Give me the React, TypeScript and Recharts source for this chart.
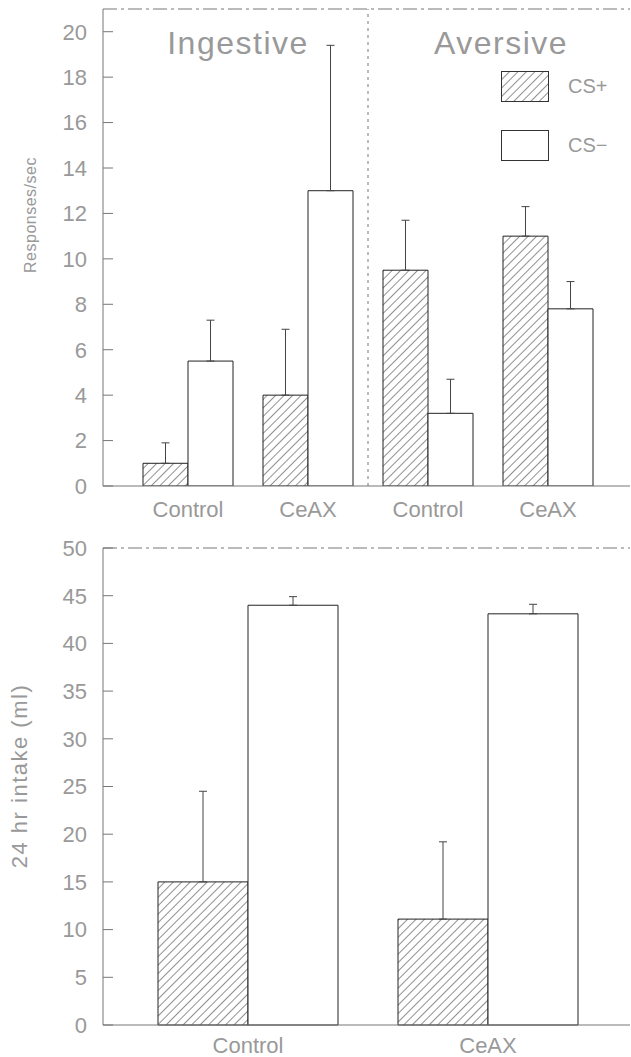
import React from 'react';
import { BarChart, Bar, XAxis, YAxis, ErrorBar, ReferenceLine, Legend } from 'recharts';

// ---- Top panel: responses ----
const respGroups = ['Ingestive', 'Ingestive', 'Aversive', 'Aversive'];
const respCategories = ['Control', 'CeAX', 'Control', 'CeAX'];
const respCSPlus = [1.0, 4.0, 9.5, 11.0];
const respCSPlusErr = [0.9, 2.9, 2.2, 1.3];
const respCSMinus = [5.5, 13.0, 3.2, 7.8];
const respCSMinusErr = [1.8, 6.4, 1.5, 1.2];
const respTicks = [0, 2, 4, 6, 8, 10, 12, 14, 16, 18, 20];
const respTop = 21;

// ---- Bottom panel: 24 hr intake ----
const intakeCategories = ['Control', 'CeAX'];
const intakeCSPlus = [15.0, 11.1];
const intakeCSPlusErr = [9.5, 8.1];
const intakeCSMinus = [44.0, 43.1];
const intakeCSMinusErr = [0.9, 1.0];
const intakeTicks = [0, 5, 10, 15, 20, 25, 30, 35, 40, 45, 50];
const intakeTop = 50;

const seriesNames = ['CS+', 'CS\u2212'];

const respData = respCategories.map((c, i) => ({
  id: respGroups[i] + '|' + c,
  plus: respCSPlus[i],
  plusErr: [0, respCSPlusErr[i]],
  minus: respCSMinus[i],
  minusErr: [0, respCSMinusErr[i]],
}));

const intakeData = intakeCategories.map((c, i) => ({
  id: c,
  plus: intakeCSPlus[i],
  plusErr: [0, intakeCSPlusErr[i]],
  minus: intakeCSMinus[i],
  minusErr: [0, intakeCSMinusErr[i]],
}));

const FONT = '"Liberation Sans", Arial, sans-serif';
const TEXT = '#999';
const AXIS = '#777';
const BAR_STROKE = '#222';
const HATCH = 'url(#hatch)';

const tickStyle = { fill: TEXT, fontSize: 22, fontFamily: FONT };

const renderLegend = (props: any) => {
  const payload = props.payload || [];
  return (
    <div style={{ fontFamily: FONT }}>
      {payload.map((e: any, i: number) => (
        <div
          key={i}
          style={{ display: 'flex', alignItems: 'center', height: 31, marginBottom: i === 0 ? 28 : 0 }}
        >
          <svg width={48} height={31} style={{ display: 'block' }}>
            <rect x={0.5} y={0.5} width={47} height={30} fill={e.color} stroke="#333" strokeWidth={1} />
          </svg>
          <span style={{ marginLeft: 19, color: TEXT, fontSize: 20 }}>{e.value}</span>
        </div>
      ))}
    </div>
  );
};

const RotLabel = ({ text, cx, cy, size, spacing }: any) => (
  <div
    style={{
      position: 'absolute',
      left: cx,
      top: cy,
      transform: 'translate(-50%, -50%) rotate(-90deg)',
      whiteSpace: 'nowrap',
      color: TEXT,
      fontFamily: FONT,
      fontSize: size,
      letterSpacing: spacing,
      lineHeight: 1,
    }}
  >
    {text}
  </div>
);

const Title = ({ text, cx, top }: any) => (
  <div
    style={{
      position: 'absolute',
      left: cx,
      top,
      transform: 'translateX(-50%)',
      whiteSpace: 'nowrap',
      color: TEXT,
      fontFamily: FONT,
      fontSize: 32,
      letterSpacing: 1.5,
      lineHeight: 1,
    }}
  >
    {text}
  </div>
);

export default function App() {
  return (
    <div style={{ position: 'absolute', left: 0, top: 0, width: 631, height: 1057, background: '#fff', overflow: 'hidden' }}>
      <svg width={0} height={0} style={{ position: 'absolute' }}>
        <defs>
          <pattern id="hatch" patternUnits="userSpaceOnUse" width={6} height={6} patternTransform="rotate(45)">
            <rect x={0} y={0} width={6} height={6} fill="#fff" />
            <line x1={0} y1={0} x2={0} y2={6} stroke="#333" strokeWidth={1.1} />
          </pattern>
        </defs>
      </svg>

      {/* Bottom panel */}
      <div style={{ position: 'absolute', left: 0, top: 520 }}>
        <BarChart
          width={631}
          height={537}
          data={intakeData}
          margin={{ top: 28, right: 1, left: 0, bottom: 2 }}
          barGap={0}
          barCategoryGap={30}
        >
          <XAxis
            dataKey="id"
            height={30}
            tickLine={false}
            tickSize={0}
            tickMargin={12}
            stroke={AXIS}
            tick={tickStyle}
            padding={{ left: 25, right: 22 }}
            interval={0}
          />
          <YAxis
            domain={[0, intakeTop]}
            ticks={intakeTicks}
            width={103}
            stroke={AXIS}
            tickSize={-10}
            tickMargin={26}
            tick={tickStyle}
          />
          <ReferenceLine y={intakeTop} stroke={AXIS} strokeDasharray="14 4 3 4" />
          <Bar dataKey="plus" name={seriesNames[0]} fill={HATCH} stroke={BAR_STROKE} strokeWidth={1} isAnimationActive={false}>
            <ErrorBar dataKey="plusErr" width={4} stroke="#444" strokeWidth={1} direction="y" />
          </Bar>
          <Bar dataKey="minus" name={seriesNames[1]} fill="#fff" stroke={BAR_STROKE} strokeWidth={1} isAnimationActive={false}>
            <ErrorBar dataKey="minusErr" width={4} stroke="#444" strokeWidth={1} direction="y" />
          </Bar>
        </BarChart>
      </div>

      {/* Top panel */}
      <div style={{ position: 'absolute', left: 0, top: 0 }}>
        <BarChart
          width={631}
          height={532}
          data={respData}
          margin={{ top: 9, right: 1, left: 0, bottom: 16 }}
          barGap={0}
          barCategoryGap={15}
        >
          <XAxis
            dataKey="id"
            tickFormatter={(v: string) => v.split('|')[1]}
            height={30}
            tickLine={false}
            tickSize={0}
            tickMargin={15}
            stroke={AXIS}
            tick={tickStyle}
            padding={{ left: 25, right: 22 }}
            interval={0}
          />
          <YAxis
            domain={[0, respTop]}
            ticks={respTicks}
            width={103}
            stroke={AXIS}
            tickSize={-10}
            tickMargin={26}
            tick={tickStyle}
            allowDataOverflow
          />
          <ReferenceLine y={respTop} stroke={AXIS} strokeDasharray="14 4 3 4" ifOverflow="visible" />
          <ReferenceLine x="Ingestive|CeAX" position="end" stroke={AXIS} strokeDasharray="3 4" />
          <Legend
            layout="vertical"
            align="center"
            verticalAlign="middle"
            content={renderLegend}
            wrapperStyle={{ position: 'absolute', left: 501, top: 71, width: 120 }}
          />
          <Bar dataKey="plus" name={seriesNames[0]} fill={HATCH} stroke={BAR_STROKE} strokeWidth={1} isAnimationActive={false}>
            <ErrorBar dataKey="plusErr" width={4} stroke="#444" strokeWidth={1} direction="y" />
          </Bar>
          <Bar dataKey="minus" name={seriesNames[1]} fill="#fff" stroke={BAR_STROKE} strokeWidth={1} isAnimationActive={false}>
            <ErrorBar dataKey="minusErr" width={4} stroke="#444" strokeWidth={1} direction="y" />
          </Bar>
        </BarChart>
      </div>

      <Title text="Ingestive" cx={238} top={27} />
      <Title text="Aversive" cx={501} top={27} />
      <RotLabel text="Responses/sec" cx={31} cy={215} size={16} spacing={0.5} />
      <RotLabel text="24 hr intake (ml)" cx={20} cy={776} size={22} spacing={1.5} />
    </div>
  );
}
